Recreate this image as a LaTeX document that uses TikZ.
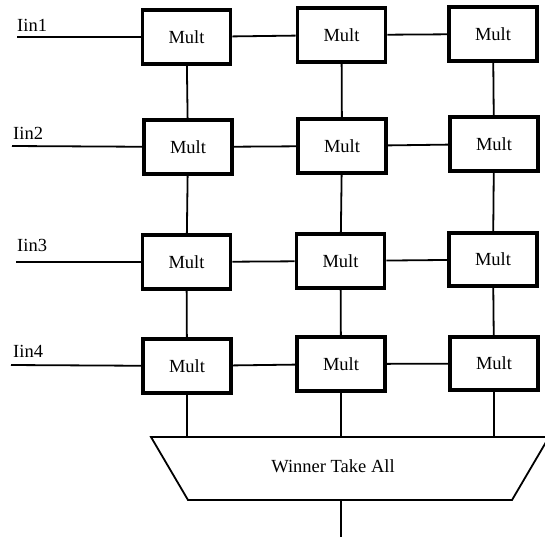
\documentclass[tikz,border=0pt]{standalone}
\usepackage{fontspec}
\setmainfont{Liberation Serif}
\begin{document}
\begin{tikzpicture}[x=1pt,y=-1pt,
  multbox/.style={draw, line width=3.6pt, minimum width=88pt, minimum height=53.5pt,
                  inner sep=0pt, font=\fontsize{18.5}{21}\selectfont},
  wire/.style={line width=1.8pt},
  inlabel/.style={anchor=base west, inner sep=0pt, font=\fontsize{18.5}{21}\selectfont}]
\useasboundingbox (0,0) rectangle (545,542);
\clip (0,0) rectangle (545,542);

% multiplier grid
\node[multbox] (m11) at (186.5,37) {Mult};
\node[multbox] (m12) at (341.5,35) {Mult};
\node[multbox] (m13) at (493,34) {Mult};
\node[multbox] (m21) at (188,147) {Mult};
\node[multbox] (m22) at (342,146) {Mult};
\node[multbox] (m23) at (494,144) {Mult};
\node[multbox] (m31) at (186.5,262) {Mult};
\node[multbox] (m32) at (340.5,261) {Mult};
\node[multbox] (m33) at (493,259.5) {Mult};
\node[multbox] (m41) at (187,366) {Mult};
\node[multbox] (m42) at (341,364) {Mult};
\node[multbox] (m43) at (494,363.5) {Mult};

% current inputs
\node[inlabel] (l1) at (17,31) {Iin1};
\node[inlabel] (l2) at (13,139) {Iin2};
\node[inlabel] (l3) at (17,251) {Iin3};
\node[inlabel] (l4) at (13,357) {Iin4};
\coordinate (in1) at (17,37);
\coordinate (in2) at (12,146);
\coordinate (in3) at (16,262);
\coordinate (in4) at (11,365);
\draw[wire] (in1) -- (m11);
\draw[wire] (in2) -- (m21);
\draw[wire] (in3) -- (m31);
\draw[wire] (in4) -- (m41);

% horizontal links
\foreach \r in {1,2,3,4}{
  \draw[wire] (m\r1) -- (m\r2);
  \draw[wire] (m\r2) -- (m\r3);
}
% vertical links
\foreach \c in {1,2,3}{
  \draw[wire] (m1\c) -- (m2\c);
  \draw[wire] (m2\c) -- (m3\c);
  \draw[wire] (m3\c) -- (m4\c);
}

% winner-take-all block
\coordinate (wtl) at (151,437);
\coordinate (wtr) at (549,437);
\coordinate (wbr) at (512,500);
\coordinate (wbl) at (188,500);
\draw[wire] (wtl) -- (wtr) -- (wbr) -- (wbl) -- cycle;
\node[font=\fontsize{18.5}{21}\selectfont, inner sep=0pt] (wta) at (333,466) {Winner Take All};

\draw[wire] (m41.south) -- (m41.south |- wtl);
\draw[wire] (m42.south) -- (m42.south |- wtl);
\draw[wire] (m43.south) -- (m43.south |- wtl);

\coordinate (wout) at (341,500);
\coordinate (out) at (341,537);
\draw[wire] (wout) -- (out);
\end{tikzpicture}
\end{document}
